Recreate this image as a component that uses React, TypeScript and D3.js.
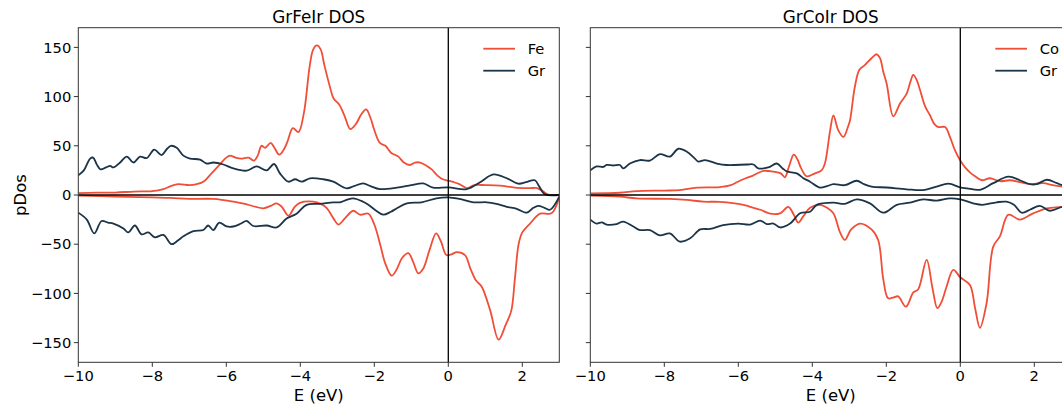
import React from "react";
import * as d3 from "d3";

type P = [number, number];

const panelTitles = ["GrFeIr DOS", "GrCoIr DOS"];
const metalNames = ["Fe", "Co"];
const xTicks = [-10, -8, -6, -4, -2, 0, 2];
const yTicks = [-150, -100, -50, 0, 50, 100, 150];

const feUp: P[] = [[-10,2],[-9.5,2.5],[-9,2.5],[-8.5,3.5],[-8,4],[-7.7,6],[-7.5,9],[-7.3,11],[-7.0,10],[-6.8,11],[-6.6,14],[-6.4,22],[-6.2,30],[-6.0,38],[-5.9,40],[-5.75,38],[-5.6,37],[-5.4,38],[-5.25,35],[-5.15,40],[-5.05,50],[-4.95,48],[-4.8,53],[-4.7,48],[-4.57,41],[-4.45,46],[-4.35,54],[-4.2,68],[-4.05,64],[-3.9,84],[-3.75,130],[-3.65,148],[-3.55,152],[-3.45,148],[-3.35,132],[-3.2,110],[-3.1,98],[-2.95,92],[-2.8,80],[-2.65,67],[-2.5,72],[-2.35,82],[-2.22,87],[-2.1,78],[-2.0,66],[-1.85,53],[-1.7,50],[-1.55,43],[-1.35,39],[-1.2,33],[-1.04,30.5],[-0.9,33],[-0.76,33],[-0.6,30],[-0.45,26],[-0.3,20],[-0.15,16],[0,14.5],[0.15,13],[0.3,11],[0.5,7],[0.7,10],[1.0,10],[1.4,9.5],[1.8,7.5],[2.2,7],[2.4,7],[2.55,4],[2.7,0.5],[3.0,0]];
const grUpL: P[] = [[-10,20],[-9.85,25],[-9.68,37],[-9.6,38],[-9.5,31],[-9.4,26],[-9.25,28],[-9.14,29.5],[-9.05,28],[-8.87,33],[-8.69,39],[-8.51,33],[-8.33,39],[-8.15,37.5],[-7.95,46],[-7.75,40.6],[-7.6,47],[-7.5,50],[-7.34,48],[-7.16,40],[-6.98,37],[-6.71,36],[-6.53,32],[-6.35,33],[-6.08,31],[-5.81,27],[-5.45,24.7],[-5.18,29],[-4.91,25],[-4.71,31.5],[-4.55,22],[-4.32,13.5],[-4.14,16],[-3.96,13.5],[-3.74,17],[-3.38,16],[-3.11,13.5],[-2.75,6.8],[-2.55,9],[-2.3,11.8],[-2.1,9],[-1.85,6],[-1.39,7.4],[-1.0,10],[-0.68,11.8],[-0.41,7.4],[0,7.8],[0.5,6],[0.86,13],[1.22,21],[1.58,17],[1.89,11.5],[2.1,13],[2.34,15],[2.46,8.5],[2.61,0.7],[3.0,0]];
const feDown: P[] = [[-10,-0.7],[-9,-1.5],[-8,-2.5],[-7.5,-3],[-7,-4],[-6.35,-4],[-5.8,-6.8],[-5.45,-9.5],[-5.0,-13.5],[-4.8,-11],[-4.64,-8.5],[-4.5,-12],[-4.32,-21],[-4.15,-12],[-4.01,-8],[-3.65,-6.8],[-3.45,-9],[-3.29,-13],[-3.1,-24],[-2.97,-30],[-2.8,-24],[-2.57,-16],[-2.39,-20],[-2.16,-19],[-2.0,-30],[-1.85,-49],[-1.7,-70],[-1.53,-82],[-1.4,-76],[-1.25,-64],[-1.08,-59],[-0.95,-68],[-0.81,-79.7],[-0.68,-75],[-0.5,-55],[-0.33,-39],[-0.2,-47],[-0.05,-61],[0.1,-60],[0.23,-58],[0.45,-61],[0.6,-75],[0.75,-87],[0.9,-93],[1.13,-117],[1.36,-147],[1.55,-132],[1.7,-118],[1.8,-85],[1.9,-50],[2.0,-38],[2.21,-29],[2.48,-19],[2.79,-18.6],[3.0,-1.7]];
const grDownL: P[] = [[-10,-18],[-9.77,-25],[-9.57,-39],[-9.37,-26.4],[-9.2,-28],[-9.05,-29],[-8.78,-34],[-8.65,-38],[-8.47,-31],[-8.29,-40],[-8.11,-38],[-7.93,-43],[-7.7,-40.6],[-7.48,-50],[-7.3,-46],[-7.16,-42],[-6.89,-36.6],[-6.62,-35.6],[-6.49,-31],[-6.35,-35.6],[-6.19,-28],[-5.99,-32],[-5.81,-32],[-5.6,-29],[-5.45,-26.4],[-5.27,-31.5],[-4.91,-31],[-4.64,-33],[-4.37,-24],[-4.1,-19],[-3.83,-10],[-3.47,-9],[-3.11,-7.5],[-2.93,-7.4],[-2.75,-5],[-2.57,-3.4],[-2.35,-6],[-2.16,-10],[-1.95,-16],[-1.76,-20],[-1.55,-17],[-1.39,-13.5],[-1.12,-8.5],[-0.72,-7.4],[-0.32,-3.4],[0,-2.4],[0.3,-4],[0.68,-7.4],[1.04,-7.4],[1.3,-9],[1.58,-12],[1.85,-14],[2.12,-18],[2.3,-13],[2.43,-11],[2.6,-13],[2.75,-15],[3.0,-1.7]];

const coUp: P[] = [[-10,1.7],[-9.2,2.3],[-8.75,4],[-8,4.5],[-7.58,5],[-7.12,7.4],[-6.5,8],[-6.2,10],[-6.04,13],[-5.8,17],[-5.59,20],[-5.32,24.5],[-5.05,23.7],[-4.85,22],[-4.74,18],[-4.63,29],[-4.5,41],[-4.4,36],[-4.3,27],[-4.15,19],[-3.93,22],[-3.75,25],[-3.66,32],[-3.52,65],[-3.43,81],[-3.3,66],[-3.16,59],[-3.03,70],[-2.98,76],[-2.85,110],[-2.73,127],[-2.58,132],[-2.4,139],[-2.26,143],[-2.17,139],[-2.08,125],[-1.99,113],[-1.81,80],[-1.63,93],[-1.45,103],[-1.35,115],[-1.27,122],[-1.18,117],[-1.09,107],[-0.95,90],[-0.82,81],[-0.7,72],[-0.59,69],[-0.41,69],[-0.28,59],[-0.14,45],[0,35],[0.13,28],[0.26,23],[0.4,19],[0.58,15],[0.8,17],[1.07,14],[1.34,15],[1.61,13],[1.88,11],[2.24,12],[2.5,10],[2.75,8.5],[3.0,7]];
const grUpR: P[] = [[-10,25],[-9.83,29],[-9.65,28.5],[-9.56,30.5],[-9.38,30],[-9.2,30.5],[-9.11,27],[-8.93,32],[-8.66,35.5],[-8.39,35],[-8.12,41.6],[-7.85,39],[-7.62,47],[-7.39,44],[-7.2,38],[-7.08,34],[-6.9,35.5],[-6.58,32],[-6.31,30.5],[-5.77,31],[-5.59,31],[-5.46,27],[-5.19,28],[-4.96,32],[-4.8,27],[-4.69,24],[-4.42,22],[-4.24,17],[-4.06,13.5],[-3.8,7.6],[-3.6,9],[-3.43,11],[-3.12,10],[-2.8,14.5],[-2.6,11],[-2.4,8.5],[-1.99,7.6],[-1.45,5.8],[-1.0,5],[-0.64,8.5],[-0.32,11.5],[0,7.8],[0.18,6.8],[0.53,5.3],[0.89,12],[1.3,18.6],[1.61,15],[1.88,11],[2.06,11],[2.34,15.5],[2.61,12],[2.75,10],[3.0,9]];
const coDown: P[] = [[-10,-0.7],[-9.2,-1.7],[-8.75,-3.4],[-7.85,-4],[-7.39,-5],[-6.95,-6.8],[-6.5,-7],[-5.86,-10],[-5.59,-13],[-5.4,-15],[-5.14,-19],[-4.87,-18.6],[-4.65,-12],[-4.5,-20],[-4.38,-28],[-4.25,-22],[-4.06,-13],[-3.79,-10],[-3.6,-13],[-3.43,-18.6],[-3.25,-38],[-3.12,-45.7],[-2.95,-35],[-2.71,-29],[-2.4,-35],[-2.22,-45.7],[-2.08,-86],[-1.95,-105],[-1.8,-104],[-1.68,-103],[-1.47,-113.5],[-1.27,-99],[-1.14,-96],[-0.91,-66],[-0.75,-95],[-0.62,-115],[-0.5,-108],[-0.37,-93],[-0.19,-76],[0,-83.6],[0.26,-91.4],[0.4,-115],[0.53,-135],[0.71,-110],[0.89,-52.5],[1.07,-42],[1.3,-20],[1.61,-25],[1.97,-18.6],[2.34,-13.5],[2.75,-12],[3.0,-10]];
const grDownR: P[] = [[-10,-25],[-9.83,-29],[-9.69,-27.8],[-9.56,-30],[-9.29,-29.5],[-9.11,-27],[-8.84,-32],[-8.66,-35.6],[-8.39,-35.6],[-8.12,-41],[-7.85,-39],[-7.58,-47.4],[-7.3,-44],[-7.03,-35],[-6.76,-34.5],[-6.41,-30.5],[-6.0,-29],[-5.68,-30],[-5.41,-26],[-5.23,-29.5],[-5.05,-29],[-4.87,-33],[-4.6,-29],[-4.33,-18.6],[-4.06,-17],[-3.88,-10],[-3.43,-7.8],[-3.12,-9],[-2.8,-4.4],[-2.44,-8.5],[-2.08,-18],[-1.72,-10],[-1.36,-7.8],[-1.0,-4.4],[-0.64,-5.8],[-0.28,-3.4],[0,-4.4],[0.35,-8.5],[0.6,-10],[0.98,-7.4],[1.25,-6.8],[1.45,-10],[1.66,-18],[1.88,-15],[2.15,-11],[2.42,-16],[2.75,-12],[3.0,-10]];

const panelsData = [
  { metalUp: feUp, metalDown: feDown, grUp: grUpL, grDown: grDownL },
  { metalUp: coUp, metalDown: coDown, grUp: grUpR, grDown: grDownR },
];

const RED = "#f04e37";
const DARK = "#1b3448";
const FONT = "'DejaVu Sans', sans-serif";

const W = 1062, H = 404;
const panelLeft = [78.3, 590.3];
const pxPerUnit = 37;
const top = 27.7, bottom = 362.3;

function Panel({ i }: { i: number }) {
  const x0 = panelLeft[i];
  const x = d3.scaleLinear().domain([-10, 3]).range([x0, x0 + 13 * pxPerUnit]);
  const y = d3.scaleLinear().domain([-170, 170]).range([bottom, top]);
  const line = d3
    .line<P>()
    .x((d) => x(d[0]))
    .y((d) => y(d[1]))
    .curve(d3.curveCatmullRom.alpha(0.5));
  const d = panelsData[i];
  const [xl, xr] = x.range();
  const cx = (xl + xr) / 2;
  const clipId = `clip${i}`;
  const lx = x0 + 405;
  return (
    <g>
      <defs>
        <clipPath id={clipId}>
          <rect x={xl} y={top} width={xr - xl} height={bottom - top} />
        </clipPath>
      </defs>
      <g clipPath={`url(#${clipId})`} fill="none" strokeWidth={1.8} strokeLinejoin="round">
        <path d={line(d.metalUp) || ""} stroke={RED} />
        <path d={line(d.metalDown) || ""} stroke={RED} />
        <path d={line(d.grUp) || ""} stroke={DARK} />
        <path d={line(d.grDown) || ""} stroke={DARK} />
        <line x1={xl} x2={xr} y1={y(0)} y2={y(0)} stroke="#000" strokeWidth={1.5} />
        <line x1={x(0)} x2={x(0)} y1={top} y2={bottom} stroke="#000" strokeWidth={1.3} />
      </g>
      <rect x={xl} y={top} width={xr - xl} height={bottom - top} fill="none" stroke="#333" strokeWidth={1} />
      {xTicks.map((t) => (
        <g key={`x${t}`}>
          <line x1={x(t)} x2={x(t)} y1={bottom} y2={bottom + 4.5} stroke="#333" strokeWidth={1} />
          <text x={x(t)} y={bottom + 18.5} textAnchor="middle" fontSize={14.7} fontFamily={FONT} fill="#000">
            {t < 0 ? `\u2212${Math.abs(t)}` : `${t}`}
          </text>
        </g>
      ))}
      {yTicks.map((t) => (
        <g key={`y${t}`}>
          <line x1={xl - 4.5} x2={xl} y1={y(t)} y2={y(t)} stroke="#333" strokeWidth={1} />
          {i === 0 && (
            <text x={xl - 7} y={y(t)} dy="0.36em" textAnchor="end" fontSize={14.7} fontFamily={FONT} fill="#000">
              {t < 0 ? `\u2212${Math.abs(t)}` : `${t}`}
            </text>
          )}
        </g>
      ))}
      <text x={cx} y={23} textAnchor="middle" fontSize={16.8} fontFamily={FONT} fill="#000">
        {panelTitles[i]}
      </text>
      <text x={cx} y={400.5} textAnchor="middle" fontSize={16.5} fontFamily={FONT} fill="#000">
        E (eV)
      </text>
      {i === 0 && (
        <text transform="translate(25.5,195) rotate(-90)" textAnchor="middle" fontSize={16.5} fontFamily={FONT} fill="#000">
          pDos
        </text>
      )}
      <g>
        <line x1={lx} x2={lx + 31.7} y1={48.7} y2={48.7} stroke={RED} strokeWidth={1.8} />
        <text x={lx + 44.4} y={48.7} dy="0.36em" fontSize={14.7} fontFamily={FONT} fill="#000">
          {metalNames[i]}
        </text>
        <line x1={lx} x2={lx + 31.7} y1={70.7} y2={70.7} stroke={DARK} strokeWidth={1.8} />
        <text x={lx + 44.4} y={70.7} dy="0.36em" fontSize={14.7} fontFamily={FONT} fill="#000">
          Gr
        </text>
      </g>
    </g>
  );
}

export default function App() {
  return (
    <div style={{ position: "absolute", left: 0, top: 0 }}>
      <svg width={W} height={H} style={{ display: "block", background: "#fff" }}>
        <Panel i={0} />
        <Panel i={1} />
      </svg>
    </div>
  );
}
